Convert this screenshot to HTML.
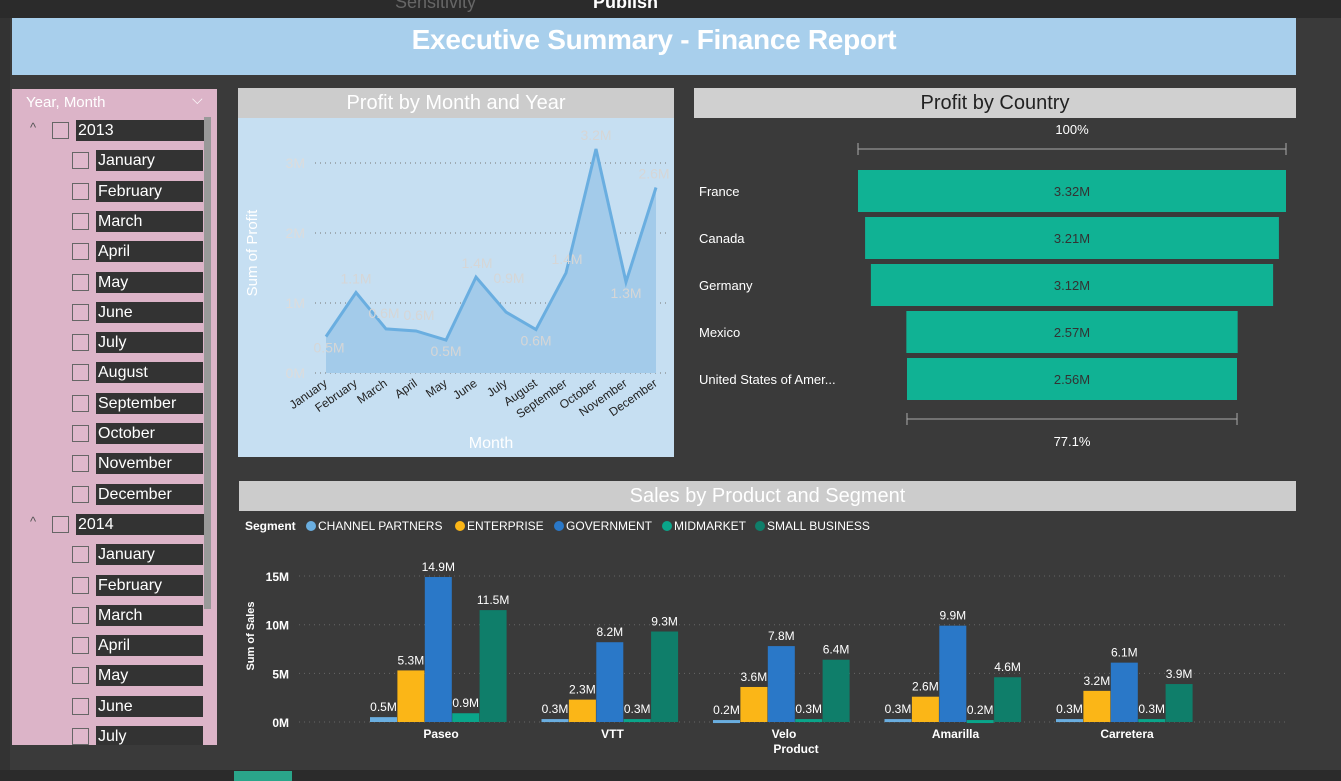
<!DOCTYPE html>
<html><head><meta charset="utf-8"><style>
body{margin:0;width:1341px;height:781px;background:#3a3a3a;font-family:"Liberation Sans",sans-serif;overflow:hidden;position:relative}
.abs{position:absolute}
.hdr{background:#cccccc;color:#fff;text-align:center;font-size:20px;line-height:30px}
.sl{position:absolute;left:0;color:#fff;font-size:16px}
.sl .cb{position:absolute;width:15px;height:15px;border:1px solid #666;background:#e0b8cc;top:2px}
.sl .lb{position:absolute;background:#333;padding:0 2px;height:21px;line-height:21px}
</style></head><body>
<div class="abs" style="left:0;top:0;width:1341px;height:18px;background:#2b2b2b">
<span class="abs" style="left:593px;top:-8px;color:#fff;font-size:18px;font-weight:bold">Publish</span>
<span class="abs" style="left:395px;top:-8px;color:#666;font-size:18px">Sensitivity</span>
</div>
<div class="abs" style="left:0;top:18px;width:10px;height:763px;background:#333"></div>
<div class="abs" style="left:12px;top:18px;width:1284px;height:57px;background:#a8cfec;color:#fff;font-weight:bold;font-size:28px;text-align:center;line-height:44px;letter-spacing:-0.3px">Executive Summary - Finance Report</div>

<div class="abs" style="left:12px;top:89px;width:205px;height:656px;background:#dcb4c8;overflow:hidden">
<div class="abs" style="left:14px;top:5px;color:#fff;font-size:15px">Year, Month</div>
<div class="abs" style="left:180px;top:2px;color:#fff;font-size:14px">⌵</div>
<div class="abs" style="left:192px;top:28px;width:7px;height:492px;background:#999"></div>
<div id="sl"></div>
</div>

<div class="abs hdr" style="left:238px;top:88px;width:436px;height:30px">Profit by Month and Year</div>
<svg class="abs" style="left:238px;top:118px" width="436" height="339" id="lc"></svg>

<div class="abs hdr" style="left:694px;top:88px;width:602px;height:30px;color:#222;background:#d0d0d0">Profit by Country</div>
<svg class="abs" style="left:694px;top:118px" width="602" height="339" id="fc"></svg>

<div class="abs hdr" style="left:239px;top:481px;width:1057px;height:30px">Sales by Product and Segment</div>
<svg class="abs" style="left:239px;top:511px" width="1057" height="250" id="bc"></svg>
<div class="abs" style="left:0;top:770px;width:1341px;height:11px;background:#2b2b2b"></div>
<div class="abs" style="left:234px;top:771px;width:58px;height:10px;background:#2aa58a"></div>
<script>
const NS="http://www.w3.org/2000/svg";
function mk(p,t,a,txt){const e=document.createElementNS(NS,t);for(const k in a)e.setAttribute(k,a[k]);if(txt!==undefined)e.textContent=txt;p.appendChild(e);return e;}
// slicer
const months=["January","February","March","April","May","June","July","August","September","October","November","December"];
const sl=document.getElementById('sl');
let items=[["2013",0]];months.forEach(m=>items.push([m,1]));items.push(["2014",0]);months.slice(0,7).forEach(m=>items.push([m,1]));
items.forEach((it,i)=>{const d=document.createElement('div');d.className='sl';d.style.top=(31+i*30.3)+'px';


const x=it[1]?60:40;
d.innerHTML=(it[1]?'':'<span style="position:absolute;left:18px;top:0;color:#555;font-size:13px">^</span>')+'<span class="cb" style="left:'+x+'px"></span><span class="lb" style="left:'+(x+24)+'px;width:'+(it[1]?103:124)+'px">'+it[0]+'</span>';
sl.appendChild(d);});

// line chart
const lmonths=["January","February","March","April","May","June","July","August","September","October","November","December"];
const profit=[0.52,1.15,0.63,0.6,0.47,1.37,0.87,0.62,1.43,3.2,1.3,2.65];
const plabels=["0.5M","1.1M","0.6M","0.6M","0.5M","1.4M","0.9M","0.6M","1.4M","3.2M","1.3M","2.6M"];
const lticks=[0,1,2,3];
const lc=document.getElementById('lc');
mk(lc,'rect',{x:0,y:0,width:436,height:339,fill:'#c6dff2'});
const lx=i=>88+i*30, ly=v=>255-v*70;
lticks.forEach(t=>{mk(lc,'line',{x1:77,x2:430,y1:ly(t),y2:ly(t),stroke:'#777','stroke-dasharray':'1 4'});mk(lc,'text',{x:67,y:ly(t)+5,'text-anchor':'end',fill:'#dcdcdc','font-size':14},t+'M');});
let pts=profit.map((v,i)=>lx(i)+','+ly(v)).join(' ');
mk(lc,'polygon',{points:lx(0)+','+ly(0)+' '+pts+' '+lx(11)+','+ly(0),fill:'#a3cbea'});
mk(lc,'polyline',{points:pts,fill:'none',stroke:'#6aaee0','stroke-width':3});
const loy=[16,-9,-9,-9,16,-9,-9,16,-9,-9,16,-9];
const lox=[3,0,-2,3,0,1,3,0,1,0,0,-2];
profit.forEach((v,i)=>mk(lc,'text',{x:lx(i)+lox[i],y:ly(v)+loy[i]+(i==2||i==3?-2:0)+(i==6?-20:0),'text-anchor':'middle',fill:'#d6d6d6','font-size':14},plabels[i]));
lmonths.forEach((m,i)=>mk(lc,'text',{x:lx(i)+2,y:267,'text-anchor':'end',fill:'#222','font-size':12,transform:'rotate(-35 '+(lx(i)+2)+' 267)'},m));
mk(lc,'text',{x:253,y:330,'text-anchor':'middle',fill:'#fff','font-size':16},'Month');
mk(lc,'text',{x:19,y:135,'text-anchor':'middle',fill:'#fff','font-size':15,transform:'rotate(-90 19 135)'},'Sum of Profit');

// funnel
const countries=["France","Canada","Germany","Mexico","United States of Amer..."];
const cprofit=[3.32,3.21,3.12,2.57,2.56];
const clabels=["3.32M","3.21M","3.12M","2.57M","2.56M"];
const fc=document.getElementById('fc');
mk(fc,'rect',{x:0,y:0,width:602,height:339,fill:'#3a3a3a'});
const fw=v=>v/cprofit[0]*428;
mk(fc,'text',{x:378,y:16,'text-anchor':'middle',fill:'#fff','font-size':13},'100%');
mk(fc,'path',{d:'M164 25v12M164 31H592M592 25v12',stroke:'#aaa',fill:'none'});
countries.forEach((c,i)=>{const y=52+i*47,w=fw(cprofit[i]);
const r=mk(fc,'rect',{x:378-w/2,y:y,width:w,height:42,fill:'#10b294'});

mk(fc,'text',{x:5,y:y+26,fill:'#fff','font-size':13},c);
mk(fc,'text',{x:378,y:y+26,'text-anchor':'middle',fill:'#333','font-size':13},clabels[i]);});
const lw=fw(cprofit[4]);
mk(fc,'path',{d:`M${378-lw/2} 295v12M${378-lw/2} 301H${378+lw/2}M${378+lw/2} 295v12`,stroke:'#aaa',fill:'none'});
mk(fc,'text',{x:378,y:328,'text-anchor':'middle',fill:'#fff','font-size':13},(cprofit[4]/cprofit[0]*100).toFixed(1)+'%');

// bar chart
const products=["Paseo","VTT","Velo","Amarilla","Carretera"];
const segments=["CHANNEL PARTNERS","ENTERPRISE","GOVERNMENT","MIDMARKET","SMALL BUSINESS"];
const colors=["#6aaee0","#fbb617","#2a78c8","#0aa58a","#0f7e6a"];
const cp=[0.5,0.3,0.2,0.3,0.3];
const ent=[5.3,2.3,3.6,2.6,3.2];
const gov=[14.9,8.2,7.8,9.9,6.1];
const mid=[0.9,0.3,0.3,0.2,0.3];
const sb=[11.5,9.3,6.4,4.6,3.9];
const series=[cp,ent,gov,mid,sb];
const bticks=[0,5,10,15];
const bc=document.getElementById('bc');
mk(bc,'rect',{x:0,y:0,width:1057,height:250,fill:'#3a3a3a'});
mk(bc,'text',{x:6,y:19,fill:'#fff','font-size':12,'font-weight':'bold'},'Segment');
const legx=[67,216,315,423,516];
segments.forEach((s,i)=>{mk(bc,'circle',{cx:legx[i]+5,cy:15,r:5,fill:colors[i]});mk(bc,'text',{x:legx[i]+12,y:19,fill:'#fff','font-size':12},s);});
const by=v=>211-v*9.73;
bticks.forEach(t=>{mk(bc,'line',{x1:60,x2:1050,y1:by(t),y2:by(t),stroke:'#666','stroke-dasharray':'1 4'});mk(bc,'text',{x:50,y:by(t)+5,'text-anchor':'end',fill:'#fff','font-size':12,'font-weight':'bold'},t+'M');});
products.forEach((p,g)=>{const gx=131+g*171.5;
series.forEach((s,k)=>{const x=gx+k*27.4,v=s[g];
const r=mk(bc,'rect',{x:x,y:by(v),width:27,height:Math.max(211-by(v),3),fill:colors[k]});

mk(bc,'text',{x:x+13.5,y:by(v)-6,'text-anchor':'middle',fill:'#fff','font-size':12},v+'M');});
mk(bc,'text',{x:gx+71,y:227,'text-anchor':'middle',fill:'#fff','font-size':12,'font-weight':'bold'},p);});
mk(bc,'text',{x:557,y:242,'text-anchor':'middle',fill:'#fff','font-size':12,'font-weight':'bold'},'Product');
mk(bc,'text',{x:15,y:125,'text-anchor':'middle',fill:'#fff','font-size':11,'font-weight':'bold',transform:'rotate(-90 15 125)'},'Sum of Sales');
</script>
</body></html>
